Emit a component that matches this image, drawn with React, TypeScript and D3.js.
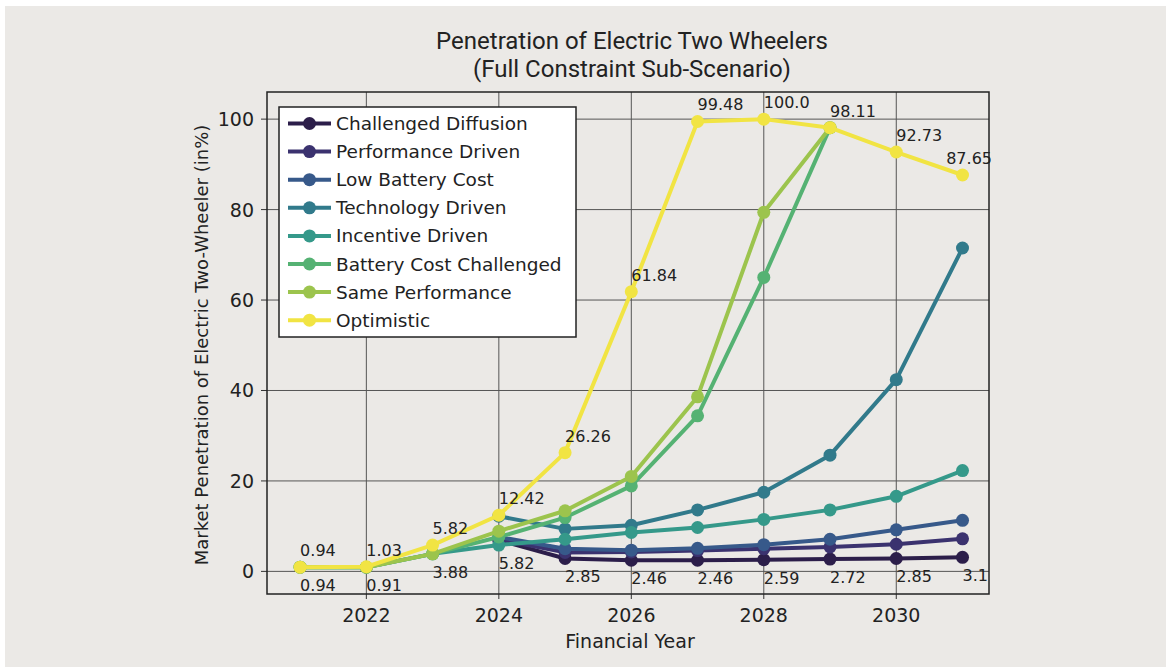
import React from "react";
import * as d3 from "d3";

const years = [2021, 2022, 2023, 2024, 2025, 2026, 2027, 2028, 2029, 2030, 2031];

const challengedDiffusion = [null, null, null, 6.9, 2.85, 2.46, 2.46, 2.59, 2.72, 2.85, 3.1];
const performanceDriven = [null, null, null, 7.1, 4.2, 4.3, 4.6, 5.0, 5.4, 6.0, 7.2];
const lowBatteryCost = [null, null, null, 7.6, 5.0, 4.7, 5.1, 5.9, 7.1, 9.2, 11.3];
const technologyDriven = [null, null, null, 12.2, 9.4, 10.2, 13.6, 17.5, 25.7, 42.4, 71.5];
const incentiveDriven = [0.94, 0.91, 3.88, 5.82, 7.1, 8.6, 9.7, 11.5, 13.6, 16.6, 22.3];
const batteryCostChallenged = [0.94, 0.91, 3.88, 7.6, 11.9, 18.9, 34.4, 65.0, 98.11, null, null];
const samePerformance = [0.94, 0.91, 3.88, 8.9, 13.4, 21.0, 38.6, 79.4, 98.11, null, null];
const optimistic = [0.94, 1.03, 5.82, 12.42, 26.26, 61.84, 99.48, 100.0, 98.11, 92.73, 87.65];

const seriesNames = [
  "Challenged Diffusion",
  "Performance Driven",
  "Low Battery Cost",
  "Technology Driven",
  "Incentive Driven",
  "Battery Cost Challenged",
  "Same Performance",
  "Optimistic",
];
const seriesValues = [
  challengedDiffusion,
  performanceDriven,
  lowBatteryCost,
  technologyDriven,
  incentiveDriven,
  batteryCostChallenged,
  samePerformance,
  optimistic,
];
const seriesColors = [
  "#2c1e4a",
  "#3b326f",
  "#37598a",
  "#317a8b",
  "#35998a",
  "#55b273",
  "#9cc44d",
  "#f1e443",
];

const optimisticLabels = ["0.94", "1.03", "5.82", "12.42", "26.26", "61.84", "99.48", "100.0", "98.11", "92.73", "87.65"];
const lowestLabels = ["0.94", "0.91", "3.88", "5.82", "2.85", "2.46", "2.46", "2.59", "2.72", "2.85", "3.1"];

const xTicks = [2022, 2024, 2026, 2028, 2030];
const yTicks = [0, 20, 40, 60, 80, 100];

const W = 1173;
const H = 667;
const left = 267;
const right = 989;
const top = 92;
const bottom = 594;
const FONT = "'DejaVu Sans', sans-serif";

export default function App() {
  const x = d3.scaleLinear().domain([2020.5, 2031.4]).range([left, right]);
  const y = d3.scaleLinear().domain([-5, 106]).range([bottom, top]);

  const line = d3
    .line<[number, number | null]>()
    .defined((d) => d[1] !== null)
    .x((d) => x(d[0]))
    .y((d) => y(d[1] as number));

  const lowest = years.map((_, i) => {
    const vals = seriesValues.map((s) => s[i]).filter((v) => v !== null) as number[];
    return d3.min(vals) as number;
  });

  const legendRowH = 28.1;
  const legendX = 279;
  const legendY = 107;

  return (
    <svg
      width={W}
      height={H}
      style={{ position: "absolute", left: 0, top: 0, background: "#ffffff" }}
      fontFamily={FONT}
    >
      <rect x={5} y={6} width={1161} height={661} fill="#ebe9e6" />

      {/* Title */}
      <text x={632} y={48.5} textAnchor="middle" fontFamily="Roboto, sans-serif" fontSize={24} fill="#222">
        Penetration of Electric Two Wheelers
      </text>
      <text x={632} y={76.5} textAnchor="middle" fontFamily="Roboto, sans-serif" fontSize={24} fill="#222">
        (Full Constraint Sub-Scenario)
      </text>

      {/* Grid */}
      <g stroke="#555" strokeWidth={1}>
        {xTicks.map((t) => (
          <line key={"gx" + t} x1={x(t)} x2={x(t)} y1={top} y2={bottom} />
        ))}
        {yTicks.map((t) => (
          <line key={"gy" + t} x1={left} x2={right} y1={y(t)} y2={y(t)} />
        ))}
      </g>

      {/* Ticks */}
      <g stroke="#333" strokeWidth={1}>
        {xTicks.map((t) => (
          <line key={"tx" + t} x1={x(t)} x2={x(t)} y1={bottom} y2={bottom + 5} />
        ))}
        {yTicks.map((t) => (
          <line key={"ty" + t} x1={left - 6} x2={left} y1={y(t)} y2={y(t)} />
        ))}
      </g>
      <g fontSize={19} fill="#222">
        {xTicks.map((t) => (
          <text key={"lx" + t} x={x(t)} y={621.5} textAnchor="middle">
            {t}
          </text>
        ))}
        {yTicks.map((t) => (
          <text key={"ly" + t} x={254} y={y(t) + 7} textAnchor="end">
            {t}
          </text>
        ))}
      </g>

      {/* Axis titles */}
      <text x={(left + right) / 2 + 2} y={648} textAnchor="middle" fontSize={19} fill="#222">
        Financial Year
      </text>
      <text
        transform={`translate(208, ${(top + bottom) / 2 + 2}) rotate(-90)`}
        textAnchor="middle"
        fontSize={18}
        fill="#222"
      >
        Market Penetration of Electric Two-Wheeler (in%)
      </text>

      {/* Series */}
      {seriesValues.map((vals, si) => {
        const pts = years.map((yr, i) => [yr, vals[i]] as [number, number | null]);
        return (
          <g key={"s" + si}>
            <path d={line(pts) || ""} fill="none" stroke={seriesColors[si]} strokeWidth={4} strokeLinejoin="round" />
            {pts
              .filter((p) => p[1] !== null)
              .map((p, j) => (
                <circle key={j} cx={x(p[0])} cy={y(p[1] as number)} r={6.5} fill={seriesColors[si]} />
              ))}
          </g>
        );
      })}

      {/* Data labels */}
      <g fontSize={16} fill="#222">
        {years.map((yr, i) => {
          const px = x(yr);
          const overflow = px + 48 > right;
          return (
            <text
              key={"up" + i}
              x={overflow ? right + 3 : px}
              y={y(optimistic[i]) - 11}
              textAnchor={overflow ? "end" : "start"}
            >
              {optimisticLabels[i]}
            </text>
          );
        })}
        {years.map((yr, i) => (
          <text key={"lo" + i} x={x(yr)} y={y(lowest[i]) + 24} textAnchor="start">
            {lowestLabels[i]}
          </text>
        ))}
      </g>

      {/* Frame */}
      <rect x={left} y={top} width={right - left} height={bottom - top} fill="none" stroke="#222" strokeWidth={1.5} />

      {/* Legend */}
      <g>
        <rect x={legendX} y={legendY} width={297} height={230} fill="#ffffff" stroke="#222" strokeWidth={1.5} />
        {seriesNames.map((name, i) => {
          const cy = legendY + 16.5 + i * legendRowH;
          return (
            <g key={"lg" + i}>
              <line x1={288} x2={331} y1={cy} y2={cy} stroke={seriesColors[i]} strokeWidth={4} />
              <circle cx={309.5} cy={cy} r={6.5} fill={seriesColors[i]} />
              <text x={336} y={cy + 6.5} fontSize={18.5} fill="#222">
                {name}
              </text>
            </g>
          );
        })}
      </g>
    </svg>
  );
}
